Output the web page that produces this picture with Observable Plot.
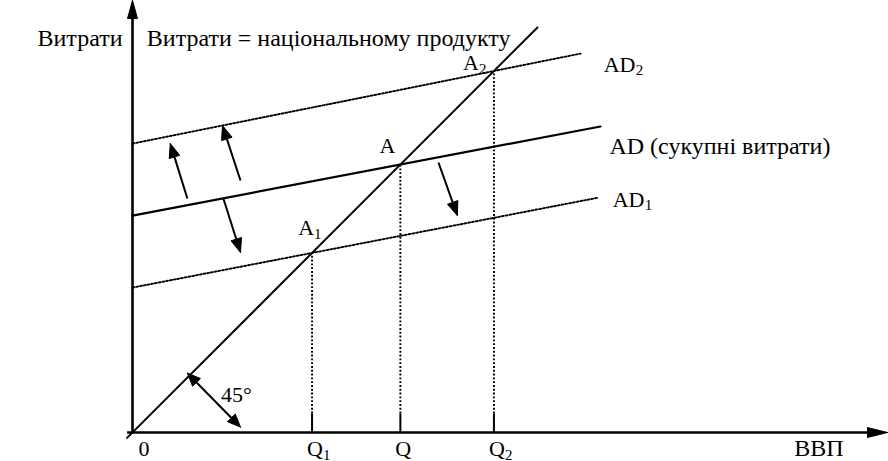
<!DOCTYPE html>
<html><head><meta charset="utf-8">
<script src="https://cdn.jsdelivr.net/npm/d3@7"></script>
<script src="https://cdn.jsdelivr.net/npm/@observablehq/plot@0.6"></script>
<style>body{margin:0;background:#fff} svg{display:block}</style>
</head><body><div id="chart"></div>
<script>
// ---- Data (units) ----
const xMax = 8.39, yMax = 4.8;
const adLine  = [{x: 0, y: 2.41}, {x: 5.20, y: 3.40}];   // AD (сукупні витрати)
const ad1Line = [{x: 0, y: 1.61}, {x: 5.18, y: 2.61}];   // AD1
const ad2Line = [{x: 0, y: 3.21}, {x: 4.98, y: 4.21}];   // AD2
const line45  = [{x: -0.06, y: -0.06}, {x: 4.5, y: 4.5}];
const pointNames = ["A", "A", "A"];
const pointSubs  = ["1", "", "2"];
const qNames = ["Q", "Q", "Q"];
const qSubs  = ["1", "", "2"];
const shiftArrows = [
  {x1: 0.61, y1: 2.60, x2: 0.42, y2: 3.21},
  {x1: 1.20, y1: 2.80, x2: 1.00, y2: 3.41},
  {x1: 1.01, y1: 2.60, x2: 1.20, y2: 2.00},
  {x1: 3.40, y1: 3.00, x2: 3.61, y2: 2.41}
];
const angleArrow = {x1: 0.61, y1: 0.66, x2: 1.20, y2: 0.06};
const labelY = "Витрати";
const labelIdentity = "Витрати = національному продукту";
const labelX = "ВВП";
const labelAD = "AD (сукупні витрати)";
const labelAngle = "45°";

// ---- derived geometry ----
const PX = 1 / 90; // one pixel in data units (both scales: 90 px per unit)
function intersect45(l) {
  const b = (l[1].y - l[0].y) / (l[1].x - l[0].x), a = l[0].y;
  const x = a / (1 - b);
  return {x, y: x};
}
const points = [ad1Line, adLine, ad2Line].map((l, i) => ({...intersect45(l), name: pointNames[i], sub: pointSubs[i], q: qNames[i], qs: qSubs[i]}));

function head(x1, y1, x2, y2, len, half, id) {
  const dx = x2 - x1, dy = y2 - y1, L = Math.hypot(dx, dy);
  const ux = dx / L, uy = dy / L, bx = x2 - ux * len, by = y2 - uy * len;
  return [
    {x: x2, y: y2, id}, {x: bx - uy * half, y: by + ux * half, id},
    {x: bx + uy * half, y: by - ux * half, id}, {x: x2, y: y2, id}
  ];
}
function shaft(a, back1, back2) {
  const dx = a.x2 - a.x1, dy = a.y2 - a.y1, L = Math.hypot(dx, dy);
  const ux = dx / L, uy = dy / L;
  return {x1: a.x1 + ux * back1, y1: a.y1 + uy * back1, x2: a.x2 - ux * back2, y2: a.y2 - uy * back2};
}
const triangles = [];
shiftArrows.forEach((a, i) => triangles.push(...head(a.x1, a.y1, a.x2, a.y2, 14 * PX, 5.5 * PX, "s" + i)));
triangles.push(...head(angleArrow.x1, angleArrow.y1, angleArrow.x2, angleArrow.y2, 13 * PX, 5.5 * PX, "g1"));
triangles.push(...head(angleArrow.x2, angleArrow.y2, angleArrow.x1, angleArrow.y1, 13 * PX, 5.5 * PX, "g2"));
triangles.push(...head(0, 0, 0, yMax, 18 * PX, 5 * PX, "ya"));
triangles.push(...head(0, 0, xMax, 0, 20 * PX, 5 * PX, "xa"));
const shafts = shiftArrows.map(a => shaft(a, 0, 10 * PX));
const angleShaft = [shaft(angleArrow, 10 * PX, 10 * PX)];
const tickLen = 19 * PX;

const serif = '"Liberation Serif", "Liberation Sans", sans-serif';
const T = (data, opts) => Plot.text(data, {fontFamily: serif, fontSize: 22, fill: "black", lineAnchor: "bottom", stroke: null, ...opts});
const C = (data, opts) => T(data, {fontSize: 24, ...opts});   // labels with Cyrillic text
const S = (data, opts) => T(data, {fontSize: 15, ...opts});   // subscripts

const adEnd = [adLine[1]], ad1End = [ad1Line[1]], ad2End = [ad2Line[1]];
const dotted = {stroke: "black", strokeWidth: 1.9, strokeDasharray: "1.9,1.9"};

const plot = Plot.plot({
  width: 888, height: 461,
  marginLeft: 132, marginRight: 1, marginTop: 0, marginBottom: 29,
  x: {domain: [0, xMax], axis: null},
  y: {domain: [0, yMax], axis: null},
  style: {background: "white", overflow: "visible"},
  marks: [
    Plot.line(ad1Line, {x: "x", y: "y", ...dotted}),
    Plot.line(ad2Line, {x: "x", y: "y", ...dotted}),
    Plot.link(points, {x1: "x", x2: "x", y1: tickLen, y2: "y", ...dotted}),
    Plot.link(points, {x1: "x", x2: "x", y1: 0, y2: tickLen, stroke: "black", strokeWidth: 2}),
    Plot.line(adLine, {x: "x", y: "y", stroke: "black", strokeWidth: 2.2}),
    Plot.line(line45, {x: "x", y: "y", stroke: "black", strokeWidth: 2}),
    Plot.link([{x1: 0, y1: 0, x2: 0, y2: yMax - 10 * PX}], {x1: "x1", y1: "y1", x2: "x2", y2: "y2", stroke: "black", strokeWidth: 2.6}),
    Plot.link([{x1: -0.06, y1: 0, x2: xMax - 10 * PX, y2: 0}], {x1: "x1", y1: "y1", x2: "x2", y2: "y2", stroke: "black", strokeWidth: 2.6}),
    Plot.link(shafts, {x1: "x1", y1: "y1", x2: "x2", y2: "y2", stroke: "black", strokeWidth: 2}),
    Plot.link(angleShaft, {x1: "x1", y1: "y1", x2: "x2", y2: "y2", stroke: "black", strokeWidth: 2}),
    Plot.line(triangles, {x: "x", y: "y", z: "id", fill: "black", stroke: "black", strokeWidth: 1, strokeLinejoin: "miter"}),
    C([{x: 0, y: yMax}], {x: "x", y: "y", text: () => labelY, textAnchor: "end", dx: -10, dy: 45}),
    C([line45[1]], {x: "x", y: "y", text: () => labelIdentity, textAnchor: "end", dx: -27, dy: 18}),
    T([points[0]], {x: "x", y: "y", text: "name", textAnchor: "end", dx: 2, dy: -18}),
    S([points[0]], {x: "x", y: "y", text: "sub", textAnchor: "start", dx: 2, dy: -14}),
    T([points[1]], {x: "x", y: "y", text: "name", textAnchor: "end", dx: -5, dy: -12}),
    T([points[2]], {x: "x", y: "y", text: "name", textAnchor: "end", dx: -15, dy: -1}),
    S([points[2]], {x: "x", y: "y", text: "sub", textAnchor: "start", dx: -15, dy: 3}),
    T(ad2End, {x: "x", y: "y", text: () => "AD", textAnchor: "start", dx: 23, dy: 18}),
    S(ad2End, {x: "x", y: "y", text: () => "2", textAnchor: "start", dx: 55, dy: 21}),
    C(adEnd, {x: "x", y: "y", text: () => labelAD, textAnchor: "start", dx: 9, dy: 27}),
    T(ad1End, {x: "x", y: "y", text: () => "AD", textAnchor: "start", dx: 14, dy: 9}),
    S(ad1End, {x: "x", y: "y", text: () => "1", textAnchor: "start", dx: 46, dy: 12}),
    T(points, {x: "x", y: 0, text: "q", textAnchor: "start", dx: -5, dy: 23}),
    S(points, {x: "x", y: 0, text: "qs", textAnchor: "start", dx: 11, dy: 27}),
    T([{x: 0, y: 0}], {x: "x", y: "y", text: () => "0", textAnchor: "start", dx: 6, dy: 23}),
    C([{x: xMax, y: 0}], {x: "x", y: "y", text: () => labelX, textAnchor: "end", dx: -44, dy: 23}),
    T([{x: (angleArrow.x1 + angleArrow.x2) / 2, y: (angleArrow.y1 + angleArrow.y2) / 2}], {x: "x", y: "y", text: () => labelAngle, textAnchor: "start", dx: 7, dy: 2})
  ]
});
document.getElementById("chart").appendChild(plot);
</script>
</body></html>
